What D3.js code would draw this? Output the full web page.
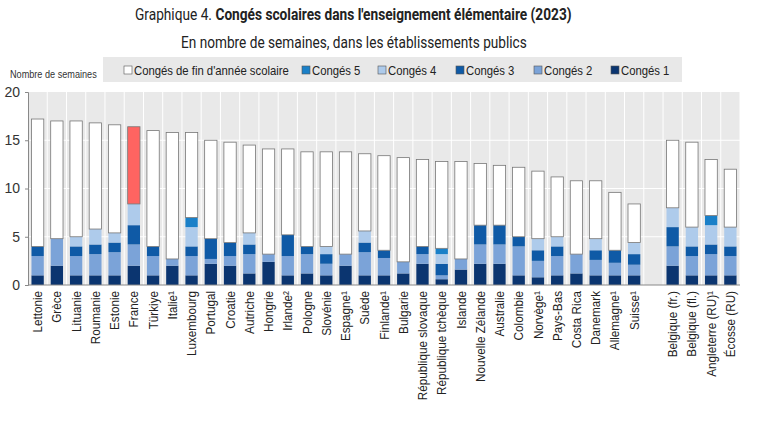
<!DOCTYPE html>
<html>
<head>
<meta charset="utf-8">
<script src="https://cdn.jsdelivr.net/npm/d3@7"></script>
<style>
  body { margin: 0; background: #fff; }
  svg { display: block; }
</style>
</head>
<body>
<script>
// data (weeks)
const countries = ["Lettonie", "Grèce", "Lituanie", "Roumanie", "Estonie", "France", "Türkiye", "Italie¹",
  "Luxembourg", "Portugal", "Croatie", "Autriche", "Hongrie", "Irlande²", "Pologne", "Slovénie", "Espagne¹",
  "Suède", "Finlande¹", "Bulgarie", "République slovaque", "République tchèque", "Islande", "Nouvelle Zélande",
  "Australie", "Colombie", "Norvège¹", "Pays-Bas", "Costa Rica", "Danemark", "Allemagne¹", "Suisse¹", "",
  "Belgique (fr.)", "Belgique (fl.)", "Angleterre (RU)¹", "Écosse (RU)"];

const conges1 = [1, 2, 1, 1, 1, 2, 1, 2, 1, 2.2, 2, 1.2, 2.4, 1, 1.2, 1, 2, 1, 1, 1.2, 2.2, 0.6, 1.6, 2.2,
  2.2, 1, 0.8, 1, 1.2, 1, 1, 1, 0, 2, 1, 1, 1];
const conges2 = [2, 2.8, 2, 2.2, 2.4, 2.2, 2, 0.7, 2, 0.5, 1, 2, 0.8, 2, 2, 1.2, 1.2, 2.4, 1.8, 1.2, 1, 0.4, 1.1, 2,
  2, 3, 1.7, 2, 2, 1.6, 1.3, 1.1, 0, 2, 2, 2.2, 2];
const conges3 = [1, 0, 1, 1, 1, 2, 1, 0, 1, 2.1, 1.4, 1, 0, 2.2, 0.8, 1, 0, 1, 0.8, 0, 0.8, 1.2, 0, 2,
  2, 1, 1.1, 1, 0, 1, 1.3, 1.1, 0, 2, 1, 1, 1];
const conges4 = [0, 0, 1, 1.6, 1, 2.2, 0, 0, 2, 0, 0, 1.2, 0, 0, 0, 0.8, 0, 1.2, 0, 0, 0, 1, 0, 0,
  0, 0, 1.2, 1, 0, 1.2, 0, 1.2, 0, 2, 2, 2, 2];
const conges5 = [0, 0, 0, 0, 0, 0, 0, 0, 1, 0, 0, 0, 0, 0, 0, 0, 0, 0, 0, 0, 0, 0.6, 0, 0,
  0, 0, 0, 0, 0, 0, 0, 0, 0, 0, 0, 1, 0];
const finAnnee = [13.2, 12.2, 12, 11, 11.2, 8, 12, 13.1, 8.8, 10.2, 10.4, 9.1, 10.9, 8.9, 9.8, 9.8, 10.6, 8,
  9.8, 10.8, 9, 9, 10.1, 6.4, 6.2, 7.2, 7, 6.2, 7.6, 6, 6, 4, 0, 7, 8.8, 5.8, 6];

const yTicks = [0, 5, 10, 15, 20];

const legendLabels = ["Congés de fin d'année scolaire", "Congés 5", "Congés 4", "Congés 3", "Congés 2", "Congés 1"];
const legendKeys = ["fin", "c5", "c4", "c3", "c2", "c1"];

// build table
const table = countries.map((c, i) => ({
  country: c, c1: conges1[i], c2: conges2[i], c3: conges3[i], c4: conges4[i], c5: conges5[i], fin: finAnnee[i]
}));
const keys = ["c1", "c2", "c3", "c4", "c5", "fin"];
const colors = { c1: "#0b3570", c2: "#7ba3d8", c3: "#0f5aa6", c4: "#aecbeb", c5: "#1a80c8", fin: "#ffffff" };

const width = 761, height = 421;
const sans = "'Liberation Sans', Arial, sans-serif";
const squeeze = 0.87; // no narrow font installed, so squeeze Liberation Sans

const svg = d3.select("body").append("svg")
  .attr("width", width)
  .attr("height", height);

// scales
const x = d3.scaleBand()
  .domain(d3.range(countries.length))
  .range([28, 740])
  .paddingInner(0.36)
  .paddingOuter(0.18);

const y = d3.scaleLinear()
  .domain([0, 20])
  .range([285, 92]);

// titles (condensed look by horizontal scaling)
function condensedLine(parts, left, baseline, targetWidth) {
  const g = svg.append("g");
  let pos = 0;
  parts.forEach(p => {
    const t = g.append("text")
      .attr("x", pos).attr("y", 0)
      .attr("font-family", "Roboto, sans-serif")
      .attr("font-size", 16)
      .attr("font-weight", p.bold ? "bold" : "normal")
      .attr("fill", "#222")
      .text(p.text);
    pos += t.node().getComputedTextLength();
  });
  const s = targetWidth / pos;
  g.attr("transform", "translate(" + left + "," + baseline + ") scale(" + s + ",1)");
}
condensedLine([{ text: "Graphique 4.\u00a0", bold: false },
  { text: "Congés scolaires dans l'enseignement élémentaire (2023)", bold: true }], 135, 20, 437);
condensedLine([{ text: "En nombre de semaines, dans les établissements publics", bold: false }], 181, 48, 346);

// legend
svg.append("rect")
  .attr("x", 103).attr("y", 57)
  .attr("width", 579).attr("height", 25)
  .attr("fill", "#e8e8e8");

const legendX = [124, 302, 378, 456, 534, 611];
const lg = svg.append("g").selectAll("g")
  .data(legendKeys)
  .enter().append("g")
  .attr("transform", (d, i) => "translate(" + legendX[i] + ",70)");
lg.append("rect")
  .attr("x", 0).attr("y", -4)
  .attr("width", 8).attr("height", 8)
  .attr("fill", d => colors[d])
  .attr("stroke", "#555")
  .attr("stroke-width", 0.6);
lg.append("text")
  .attr("transform", "translate(10,0) scale(" + squeeze + ",1)")
  .attr("dy", "0.35em")
  .attr("font-family", sans)
  .attr("font-size", 13)
  .attr("fill", "#222")
  .text((d, i) => legendLabels[i]);

// axis title
svg.append("text")
  .attr("transform", "translate(10,78) scale(" + squeeze + ",1)")
  .attr("font-family", sans)
  .attr("font-size", 10.5)
  .attr("fill", "#333")
  .text("Nombre de semaines");

// plot background: grey band columns with white gaps
const step = x.step();
svg.append("rect")
  .attr("x", 28).attr("y", y(20))
  .attr("width", 712).attr("height", y(0) - y(20))
  .attr("fill", "#ffffff");
svg.append("g").selectAll("rect")
  .data(d3.range(countries.length))
  .enter().append("rect")
  .attr("x", d => x(d) + x.bandwidth() / 2 - step / 2 + 0.5)
  .attr("y", y(20))
  .attr("width", step - 1)
  .attr("height", y(0) - y(20))
  .attr("fill", "#e9e9e9");

// horizontal grid
svg.append("g").selectAll("line")
  .data(yTicks.slice(1, -1))
  .enter().append("line")
  .attr("x1", 28).attr("x2", 740)
  .attr("y1", d => y(d)).attr("y2", d => y(d))
  .attr("stroke", "#fff")
  .attr("stroke-width", 1);

// stacked bars
const stack = d3.stack().keys(keys)(table);
svg.append("g").selectAll("g")
  .data(stack)
  .enter().append("g")
  .each(function (layer) {
    d3.select(this).selectAll("rect")
      .data(layer.map((d, i) => ({ s: d, i: i, key: layer.key })).filter(d => d.s[1] - d.s[0] > 0))
      .enter().append("rect")
      .attr("x", d => x(d.i))
      .attr("y", d => y(d.s[1]))
      .attr("width", x.bandwidth())
      .attr("height", d => y(d.s[0]) - y(d.s[1]))
      .attr("fill", d => (d.key === "fin" && countries[d.i] === "France") ? "#ff6461" : colors[d.key])
      .attr("stroke", d => d.key === "fin" ? "#777" : "none")
      .attr("stroke-width", 0.8);
  });

// left axis
const leftAxis = d3.axisLeft(y).tickValues(yTicks).tickSize(3).tickPadding(5);
const gy = svg.append("g")
  .attr("transform", "translate(28,0)")
  .call(leftAxis);
gy.select(".domain").attr("stroke", "#888");
gy.selectAll(".tick line").attr("stroke", "#888");
gy.selectAll("text")
  .attr("font-family", sans)
  .attr("font-size", 14)
  .attr("fill", "#333");

// bottom axis line
svg.append("line")
  .attr("x1", 28).attr("x2", 740)
  .attr("y1", y(0)).attr("y2", y(0))
  .attr("stroke", "#888");

// x labels
svg.append("g").selectAll("text")
  .data(countries)
  .enter().append("text")
  .attr("transform", (d, i) => "translate(" + (x(i) + x.bandwidth() / 2) + ",291) rotate(-90) scale(0.9,1)")
  .attr("text-anchor", "end")
  .attr("dy", "0.35em")
  .attr("font-family", sans)
  .attr("font-size", 13)
  .attr("fill", "#222")
  .text(d => d);
</script>
</body>
</html>
